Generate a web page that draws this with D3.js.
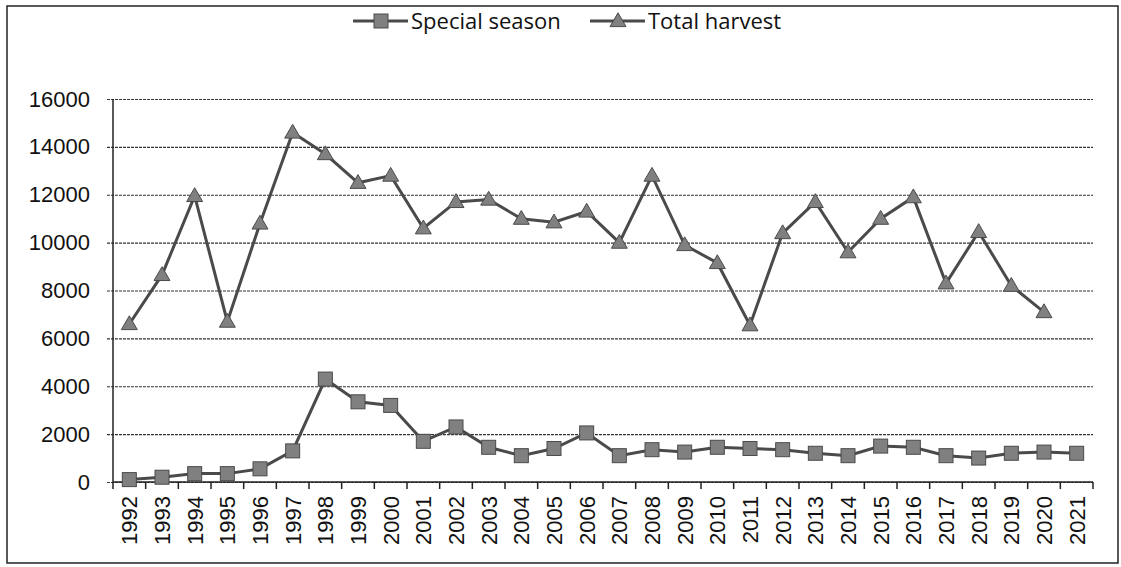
<!DOCTYPE html>
<html>
<head>
<meta charset="utf-8">
<script src="https://cdn.jsdelivr.net/npm/d3@7"></script>
<style>
  body { margin: 0; background: #fff; }
  svg { display: block; }
</style>
</head>
<body>
<div id="chart"></div>
<script>
// chart data
const years = ["1992","1993","1994","1995","1996","1997","1998","1999","2000","2001",
               "2002","2003","2004","2005","2006","2007","2008","2009","2010","2011",
               "2012","2013","2014","2015","2016","2017","2018","2019","2020","2021"];
const specialSeason = [100, 200, 350, 350, 550, 1300, 4300, 3350, 3200, 1700,
                       2300, 1450, 1100, 1400, 2050, 1100, 1350, 1250, 1450, 1400,
                       1350, 1200, 1100, 1500, 1450, 1100, 1000, 1200, 1250, 1200];
const totalHarvest = [6600, 8650, 11950, 6700, 10800, 14600, 13700, 12500, 12800, 10600,
                      11700, 11800, 11000, 10850, 11300, 10000, 12800, 9900, 9150, 6550,
                      10400, 11700, 9600, 11000, 11900, 8300, 10450, 8200, 7100, null];
const yTicks = [0, 2000, 4000, 6000, 8000, 10000, 12000, 14000, 16000];

const width = 1121,
      height = 567;
const margin = {top: 99, right: 28, bottom: 85, left: 113};

const svg = d3.select('#chart').append('svg')
    .attr("width", width)
    .attr("height", height);

// outer frame
svg.append("rect")
    .attr("x", 7).attr("y", 6)
    .attr("width", 1111).attr("height", 557)
    .attr("fill", "none")
    .attr("stroke", "#222")
    .attr("stroke-width", 1.5);

const x = d3.scaleBand()
    .domain(years)
    .range([margin.left, width - margin.right]);

const y = d3.scaleLinear()
    .domain([0, 16000])
    .range([height - margin.bottom, margin.top]);

// gridlines + y labels
const yAxis = svg.append("g")
    .attr("transform", `translate(${margin.left},0)`)
    .call(d3.axisLeft(y).tickValues(yTicks).tickFormat(d3.format("d"))
      .tickSize(-(width - margin.right - margin.left)).tickSizeOuter(0).tickPadding(23));
yAxis.select(".domain").remove();
yAxis.selectAll(".tick line")
    .attr("stroke", "#333")
    .attr("stroke-width", 1.2)
    .attr("stroke-dasharray", "3,1")
    .attr("x1", -6);
yAxis.selectAll(".tick text")
    .style("font-family", "'Liberation Sans', Arial, sans-serif")
    .style("font-size", "22px")
    .attr("fill", "#111");

// y axis line
svg.append("line")
    .attr("x1", margin.left).attr("x2", margin.left)
    .attr("y1", y(16000)).attr("y2", y(0))
    .attr("stroke", "#222").attr("stroke-width", 1.5);

// x axis with ticks at category boundaries
const xg = svg.append("g")
    .attr("transform", `translate(0,${y(0)})`);
xg.append("line")
    .attr("x1", margin.left).attr("x2", width - margin.right)
    .attr("stroke", "#222").attr("stroke-width", 1.5);
xg.selectAll(".bt")
    .data(years.concat(["end"]))
    .enter().append("line")
    .attr("x1", (d, i) => margin.left + i * x.step())
    .attr("x2", (d, i) => margin.left + i * x.step())
    .attr("y1", 0).attr("y2", 7)
    .attr("stroke", "#222").attr("stroke-width", 1.5);
xg.selectAll(".xl")
    .data(years)
    .enter().append("text")
    .attr("transform", d => `translate(${x(d) + x.bandwidth() / 2},14) rotate(-90)`)
    .attr("text-anchor", "end")
    .attr("dy", "0.36em")
    .style("font-family", "'Liberation Sans', Arial, sans-serif")
    .style("font-size", "22px")
    .attr("fill", "#111")
    .text(d => d);

const cx = d => x(d) + x.bandwidth() / 2;

const line = d3.line()
    .defined(d => d[1] != null)
    .x(d => cx(d[0]))
    .y(d => y(d[1]));

const lineColor = "#4a4a4a",
      markFill = "#808080",
      markStroke = "#4a4a4a";

// Special season
const ss = years.map((d, i) => [d, specialSeason[i]]);
svg.append("path")
    .datum(ss)
    .attr("fill", "none")
    .attr("stroke", lineColor)
    .attr("stroke-width", 3)
    .attr("d", line);
svg.selectAll(".sq")
    .data(ss)
    .enter().append("rect")
    .attr("x", d => cx(d[0]) - 7)
    .attr("y", d => y(d[1]) - 7)
    .attr("width", 14).attr("height", 14)
    .attr("fill", markFill)
    .attr("stroke", markStroke)
    .attr("stroke-width", 1);

// Total harvest
const th = years.map((d, i) => [d, totalHarvest[i]]);
const tri = d3.symbol().type(d3.symbolTriangle).size(110);
svg.append("path")
    .datum(th)
    .attr("fill", "none")
    .attr("stroke", lineColor)
    .attr("stroke-width", 3)
    .attr("d", line);
svg.selectAll(".tr")
    .data(th.filter(d => d[1] != null))
    .enter().append("path")
    .attr("transform", d => `translate(${cx(d[0])},${y(d[1]) + 1})`)
    .attr("d", tri)
    .attr("fill", markFill)
    .attr("stroke", markStroke)
    .attr("stroke-width", 1);

// legend
const legendItems = [
  {name: "Special season", x0: 353, sym: "square"},
  {name: "Total harvest", x0: 590, sym: "triangle"}
];
const lg = svg.append("g").attr("transform", "translate(0,21)");
legendItems.forEach(it => {
  lg.append("line")
    .attr("x1", it.x0).attr("x2", it.x0 + 55)
    .attr("stroke", lineColor).attr("stroke-width", 3);
  if (it.sym === "square") {
    lg.append("rect")
      .attr("x", it.x0 + 21).attr("y", -7)
      .attr("width", 14).attr("height", 14)
      .attr("fill", markFill).attr("stroke", markStroke);
  } else {
    lg.append("path")
      .attr("transform", `translate(${it.x0 + 28},1)`)
      .attr("d", tri)
      .attr("fill", markFill).attr("stroke", markStroke);
  }
  lg.append("text")
    .attr("x", it.x0 + 58)
    .attr("dy", "0.35em")
    .style("font-family", "'Open Sans', sans-serif")
    .style("font-size", "22px")
    .attr("fill", "#111")
    .text(it.name);
});
</script>
</body>
</html>
